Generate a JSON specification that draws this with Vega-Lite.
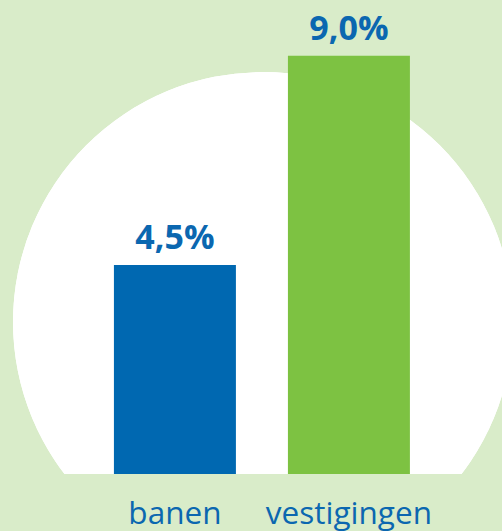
{
  "$schema": "https://vega.github.io/schema/vega-lite/v6.json",
  "width": 502,
  "height": 474,
  "autosize": {"type": "none"},
  "padding": {"left": 0, "top": 0, "right": 0, "bottom": 57},
  "background": "#d9ecc9",
  "config": {"view": {"stroke": null}, "font": "Open Sans"},
  "data": {"values": [
    {"categorie": "banen", "waarde": 4.5, "label": "4,5%"},
    {"categorie": "vestigingen", "waarde": 9.0, "label": "9,0%"}
  ]},
  "resolve": {"scale": {"x": "independent"}},
  "layer": [
    {
      "mark": {"type": "point", "filled": true, "color": "#ffffff", "opacity": 1, "shape": "circle", "clip": true},
      "encoding": {
        "x": {"datum": 263, "type": "quantitative", "scale": {"domain": [0, 502], "nice": false, "zero": false}, "axis": null},
        "y": {"datum": 3.27, "type": "quantitative", "scale": {"domain": [0, 10.2], "nice": false}, "axis": null},
        "size": {"value": 250000}
      }
    },
    {
      "encoding": {
        "x": {"field": "categorie", "type": "nominal", "sort": null,
          "scale": {"paddingInner": 0.2989, "paddingOuter": 0.592, "align": 0.553},
          "axis": {"title": null, "ticks": false, "domain": false, "labelAngle": 0, "labelFontSize": 31.5, "labelColor": "#0b67b0", "labelFont": "Open Sans", "labelBaseline": "alphabetic", "labelPadding": 49, "grid": false}
        },
        "y": {"field": "waarde", "type": "quantitative", "scale": {"domain": [0, 10.2], "nice": false}, "axis": null}
      },
      "layer": [
        {
          "mark": {"type": "bar"},
          "encoding": {
            "color": {"field": "categorie", "type": "nominal", "scale": {"domain": ["banen", "vestigingen"], "range": ["#0068b1", "#7dc242"]}, "legend": null}
          }
        },
        {
          "mark": {"type": "text", "baseline": "alphabetic", "dy": -16, "fontSize": 34, "fontWeight": "bold", "color": "#0b67b0", "font": "Open Sans"},
          "encoding": {"text": {"field": "label"}}
        }
      ]
    }
  ]
}
